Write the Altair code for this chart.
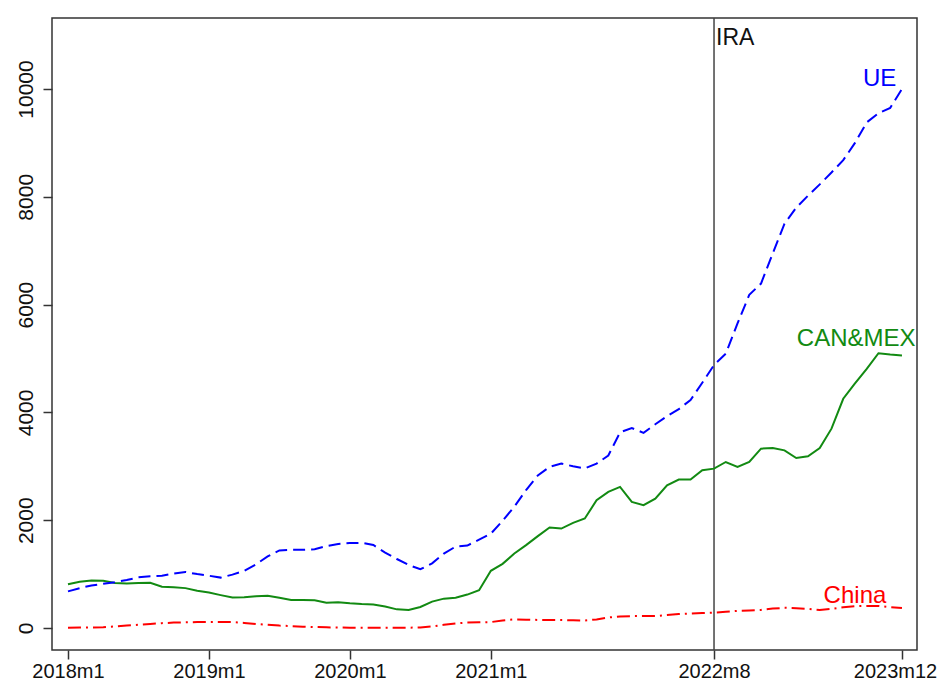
import altair as alt
import pandas as pd

# months since 2018m1 (0 .. 71 = 2023m12)
months = list(range(72))

ue = [680, 740, 790, 820, 850, 890, 940, 960, 970, 1010, 1040, 1000,
      970, 935, 990, 1060, 1180, 1330, 1440, 1450, 1450, 1460, 1520, 1560,
      1575, 1580, 1540, 1400, 1280, 1170, 1090, 1200, 1380, 1510, 1530, 1640,
      1750, 1990, 2250, 2560, 2830, 2990, 3050, 3000, 2960, 3050, 3200, 3630,
      3710, 3620, 3780, 3930, 4060, 4230, 4550, 4880, 5090, 5650, 6180, 6390,
      6950, 7500, 7800, 8020, 8230, 8450, 8680, 9000, 9380, 9550, 9650, 10000]

canmex = [810, 860, 880, 875, 835, 828, 835, 840, 765, 755, 740, 690,
          660, 610, 565, 570, 590, 600, 560, 520, 520, 515, 470, 480,
          460, 445, 438, 400, 346, 333, 390, 490, 545, 560, 620, 700,
          1062, 1190, 1383, 1537, 1704, 1864, 1845, 1950, 2031, 2370, 2525, 2617,
          2340, 2278, 2401, 2648, 2753, 2753, 2926, 2957, 3080, 2988, 3080, 3327,
          3339, 3296, 3154, 3185, 3339, 3698, 4253, 4537, 4809, 5098, 5074, 5056]

china = [5, 8, 10, 15, 30, 45, 60, 75, 90, 100, 105, 110,
         110, 112, 110, 95, 75, 60, 45, 35, 25, 18, 12, 8,
         6, 5, 5, 5, 5, 6, 10, 30, 60, 85, 100, 105,
         110, 140, 160, 155, 150, 148, 148, 142, 138, 160, 195, 215,
         220, 222, 222, 240, 258, 268, 278, 285, 300, 318, 326, 335,
         360, 375, 368, 355, 335, 355, 385, 405, 410, 410, 385, 370]

tick_values = [0, 12, 24, 36, 55, 71]
tick_labels = ["2018m1", "2019m1", "2020m1", "2021m1", "2022m8", "2023m12"]
y_ticks = [0, 2000, 4000, 6000, 8000, 10000]

ira_month = 55
label_names = ["UE", "CAN&MEX", "China"]
label_x = [69.1, 67.1, 67.0]
label_y = [10185, 5370, 593]
colors = ["#0000ff", "#128a12", "#ff0000"]

FONT = "Liberation Sans"

label_expr = ""
for v, l in zip(tick_values, tick_labels):
    label_expr += f"datum.value == {v} ? '{l}' : "
label_expr += "''"

xscale = alt.Scale(domain=[-1.36, 72.28], nice=False, zero=False)
yscale = alt.Scale(domain=[-408, 11317], nice=False, zero=False)

xaxis = alt.Axis(values=tick_values, labelExpr=label_expr, title=None, grid=False,
                 domain=False, tickSize=9, tickColor="#333333", tickWidth=1.5,
                 labelFontSize=20, labelFont=FONT, labelColor="#111111",
                 labelPadding=2,
                 labelOffset={"condition": {"test": f"datum.value == {tick_values[-1]}",
                                            "value": -7}, "value": 0})
yaxis = alt.Axis(values=y_ticks, format="d", title=None, grid=False, domain=False,
                 tickSize=9, tickColor="#333333", tickWidth=1.5,
                 labelFontSize=21, labelFont=FONT, labelColor="#111111",
                 labelAngle=-90, labelAlign="center", labelBaseline="bottom",
                 labelPadding=7)

df = pd.DataFrame({"m": months, "UE": ue, "CAN&MEX": canmex, "China": china})


def series_line(col, color, dash):
    kw = dict(color=color, strokeWidth=2)
    if dash:
        kw["strokeDash"] = dash
    return alt.Chart(df).mark_line(**kw).encode(
        x=alt.X("m:Q", scale=xscale, axis=xaxis),
        y=alt.Y(f"{col}:Q", scale=yscale, axis=yaxis),
    )


l_ue = series_line("UE", colors[0], [12, 6])
l_cm = series_line("CAN&MEX", colors[1], None)
l_ch = series_line("China", colors[2], [13, 5, 2, 5])

vline = alt.Chart(pd.DataFrame({"m": [ira_month]})).mark_rule(
    color="#444444", strokeWidth=1.5).encode(x=alt.X("m:Q", scale=xscale))

ira_text = alt.Chart(pd.DataFrame({"m": [ira_month], "v": [10944], "t": ["IRA"]})).mark_text(
    align="left", baseline="middle", dx=2, fontSize=23, font=FONT, color="#111111"
).encode(x=alt.X("m:Q", scale=xscale), y=alt.Y("v:Q", scale=yscale), text="t:N")

lab_df = pd.DataFrame({"m": label_x, "v": label_y, "t": label_names, "c": colors})
labels = alt.Chart(lab_df).mark_text(
    align="center", baseline="middle", fontSize=24, font=FONT
).encode(
    x=alt.X("m:Q", scale=xscale), y=alt.Y("v:Q", scale=yscale), text="t:N",
    color=alt.Color("c:N", scale=None),
)

chart = alt.layer(vline, l_cm, l_ch, l_ue, ira_text, labels).properties(
    width=865, height=632,
    autosize=alt.AutoSizeParams(type="none"),
    padding={"left": 44, "top": 10, "right": 21, "bottom": 31},
    background="white",
).configure_view(stroke="#333333", strokeWidth=1.5)

chart.save("out.html", embed_options={"renderer": "svg", "actions": False})
